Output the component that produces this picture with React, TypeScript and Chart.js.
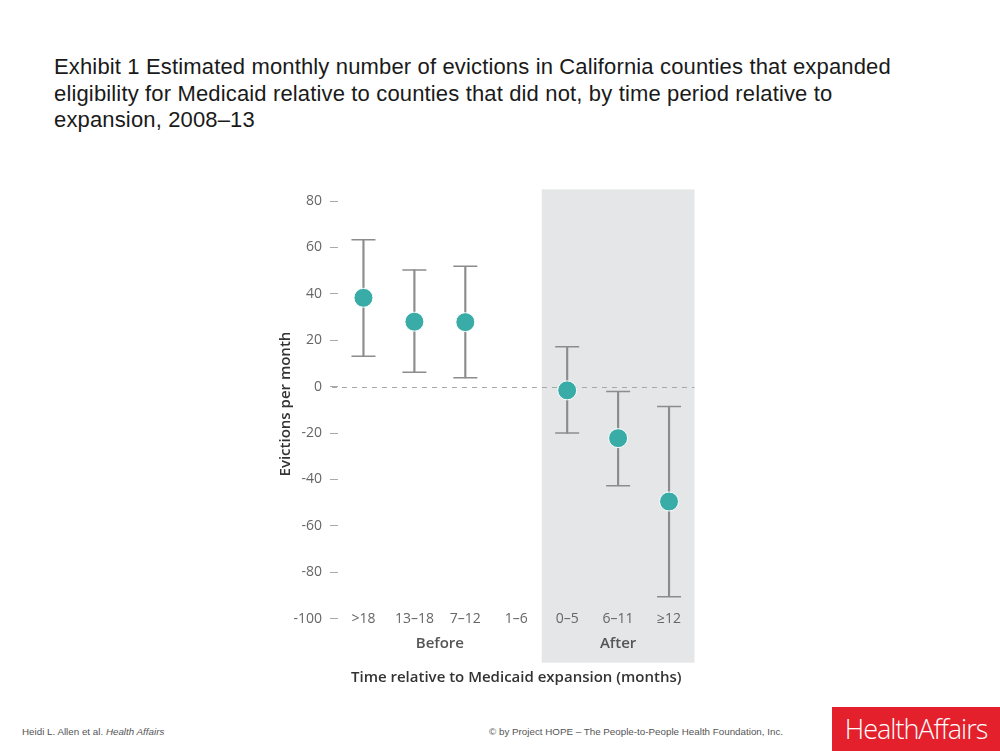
import React, { useEffect, useRef } from "react";
import { Chart, registerables } from "chart.js";

Chart.register(...registerables);

const categories = [">18", "13–18", "7–12", "1–6", "0–5", "6–11", "≥12"];
const estimates = [38.3, 28.0, 27.8, null, -1.6, -22.2, -49.5];
const upperBounds = [63.3, 50.3, 51.9, null, 17.2, -2.1, -8.6];
const lowerBounds = [13.1, 6.2, 3.8, null, -20.0, -42.7, -90.5];
const yTicks = [-100, -80, -60, -40, -20, 0, 20, 40, 60, 80];
const groupLabels = ["Before", "After"];
const groupRanges = [
  [0, 3],
  [4, 6],
];
const shadedFromIndex = 4;

const TEAL = "#3aaca8";
const BAR_GRAY = "#8c8c8c";
const FONT = "'Open Sans', 'Noto Sans', sans-serif";

const overlayPlugin = {
  id: "overlay",
  beforeDraw(chart: any) {
    const { ctx, chartArea, scales } = chart;
    const x = scales.x;
    const left =
      (x.getPixelForValue(shadedFromIndex - 1) + x.getPixelForValue(shadedFromIndex)) / 2;
    ctx.save();
    ctx.fillStyle = "#e5e6e7";
    ctx.fillRect(left, chartArea.top, chartArea.right - left, chartArea.bottom + 44 - chartArea.top);
    ctx.restore();
  },
  beforeDatasetsDraw(chart: any) {
    const { ctx, chartArea, scales } = chart;
    const y0 = Math.round(scales.y.getPixelForValue(0)) + 0.5;
    ctx.save();
    ctx.strokeStyle = "#a8a8a8";
    ctx.lineWidth = 1;
    ctx.setLineDash([5, 5]);
    ctx.beginPath();
    ctx.moveTo(chartArea.left - 6, y0);
    ctx.lineTo(chartArea.right, y0);
    ctx.stroke();
    ctx.restore();
  },
  afterDraw(chart: any) {
    const { ctx, chartArea, scales } = chart;
    const x = scales.x;
    ctx.save();
    ctx.fillStyle = "#555";
    ctx.font = `600 15px ${FONT}`;
    ctx.textAlign = "center";
    ctx.textBaseline = "middle";
    groupLabels.forEach((label, i) => {
      const [a, b] = groupRanges[i];
      const cx = (x.getPixelForValue(a) + x.getPixelForValue(b)) / 2;
      ctx.fillText(label, cx, chartArea.bottom + 25);
    });
    ctx.restore();
  },
};

function EvictionsChart() {
  const ref = useRef<HTMLCanvasElement | null>(null);
  useEffect(() => {
    if (!ref.current) return;
    Chart.defaults.font.family = FONT;
    const chart = new Chart(ref.current, {
      type: "bar",
      data: {
        labels: categories,
        datasets: [
          {
            type: "bar",
            label: "range",
            data: lowerBounds.map((l, i) => (l === null ? null : [l, upperBounds[i] as number])) as any,
            backgroundColor: BAR_GRAY,
            barThickness: 1.5,
            grouped: false,
            borderWidth: 0,
            order: 3,
          } as any,
          {
            type: "line",
            label: "upper",
            data: upperBounds,
            showLine: false,
            pointStyle: "line",
            pointRadius: 12,
            pointHoverRadius: 12,
            pointBorderColor: BAR_GRAY,
            pointBorderWidth: 1.5,
            order: 2,
          } as any,
          {
            type: "line",
            label: "lower",
            data: lowerBounds,
            showLine: false,
            pointStyle: "line",
            pointRadius: 12,
            pointHoverRadius: 12,
            pointBorderColor: BAR_GRAY,
            pointBorderWidth: 1.5,
            order: 1,
          } as any,
          {
            type: "line",
            label: "estimate",
            data: estimates,
            showLine: false,
            pointRadius: 9.5,
            pointHoverRadius: 9.5,
            pointBackgroundColor: TEAL,
            pointBorderColor: "#ffffff",
            pointBorderWidth: 1,
            order: 0,
          } as any,
        ],
      },
      options: {
        animation: false,
        responsive: false,
        maintainAspectRatio: false,
        layout: { padding: { left: 10, right: 15.5, top: 19.4, bottom: 0 } },
        plugins: { legend: { display: false }, tooltip: { enabled: false } },
        scales: {
          x: {
            type: "category",
            offset: true,
            grid: { display: false, drawTicks: false },
            border: { display: false },
            ticks: {
              color: "#666",
              font: { size: 14 },
              mirror: true,
              padding: -8.4,
              autoSkip: false,
              maxRotation: 0,
            },
            title: {
              display: true,
              text: "Time relative to Medicaid expansion (months)",
              color: "#333",
              font: { size: 15, weight: 600 },
              padding: { top: 0, bottom: 13 },
            },
            afterFit(scale: any) {
              scale.height = 81.3;
            },
          },
          y: {
            type: "linear",
            min: -100,
            max: 85,
            grid: {
              display: true,
              drawOnChartArea: false,
              drawTicks: true,
              tickLength: 8,
              color: "#aaa",
            },
            border: { display: false },
            ticks: {
              color: "#666",
              font: { size: 14 },
              padding: 8,
            },
            afterBuildTicks(scale: any) {
              scale.ticks = yTicks.map((v) => ({ value: v }));
            },
            title: {
              display: true,
              text: "Evictions per month",
              color: "#333",
              font: { size: 15, weight: 600 },
              padding: { top: 7, bottom: 0 },
            },
            afterFit(scale: any) {
              scale.width = 68;
            },
          },
        },
      },
      plugins: [overlayPlugin],
    } as any);
    return () => chart.destroy();
  }, []);
  return (
    <canvas
      ref={ref}
      width={450}
      height={530}
      style={{ position: "absolute", left: 260, top: 170, width: 450, height: 530 }}
    />
  );
}

export default function App() {
  const titleLines = [
    "Exhibit 1 Estimated monthly number of evictions in California counties that expanded",
    "eligibility for Medicaid relative to counties that did not, by time period relative to",
    "expansion, 2008–13",
  ];
  return (
    <div
      style={{
        position: "absolute",
        left: 0,
        top: 0,
        width: 1000,
        height: 751,
        background: "#fff",
        overflow: "hidden",
      }}
    >
      <div
        style={{
          position: "absolute",
          left: 54,
          top: 54,
          fontFamily: "'Liberation Sans', Arial, sans-serif",
          fontSize: 22,
          letterSpacing: "0.15px",
          lineHeight: "26.5px",
          color: "#1a1a1a",
          whiteSpace: "nowrap",
        }}
      >
        {titleLines.map((t, i) => (
          <div key={i}>{t}</div>
        ))}
      </div>
      <EvictionsChart />
      <div
        style={{
          position: "absolute",
          left: 22,
          top: 726,
          fontFamily: "'Liberation Sans', Arial, sans-serif",
          fontSize: 9.8,
          lineHeight: "12px",
          color: "#555",
          whiteSpace: "nowrap",
        }}
      >
        Heidi L. Allen et al. <i>Health Affairs</i>
      </div>
      <div
        style={{
          position: "absolute",
          left: 489,
          top: 726,
          fontFamily: "'Liberation Sans', Arial, sans-serif",
          fontSize: 9.8,
          lineHeight: "12px",
          color: "#555",
          whiteSpace: "nowrap",
        }}
      >
        © by Project HOPE – The People-to-People Health Foundation, Inc.
      </div>
      <div
        style={{
          position: "absolute",
          left: 832,
          top: 707,
          width: 168,
          height: 44,
          background: "#e3202b",
          color: "#fff",
          fontFamily: "'Open Sans', sans-serif",
          fontWeight: 300,
          fontSize: 27,
          letterSpacing: "-1px",
          lineHeight: "44px",
          textAlign: "center",
          whiteSpace: "nowrap",
        }}
      >
        HealthAffairs
      </div>
    </div>
  );
}
